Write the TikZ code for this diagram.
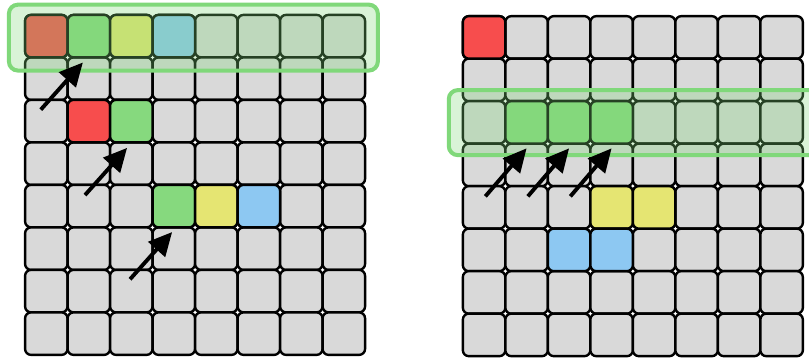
\documentclass[tikz,border=0pt]{standalone}
\usepackage{tikz}
\usetikzlibrary{arrows.meta, positioning, calc}

\definecolor{cellgray}{RGB}{217,217,217}
\definecolor{cellred}{RGB}{247,77,77}
\definecolor{cellgreen}{RGB}{134,217,126}
\definecolor{cellyellow}{RGB}{229,229,114}
\definecolor{cellblue}{RGB}{141,200,242}
\definecolor{hlgreen}{RGB}{128,216,122}

\begin{document}
\begin{tikzpicture}[>={Triangle[length=0.55cm, width=0.52cm]}, thick]
		% Define styles
		\tikzstyle{cell} = [draw, rectangle, rounded corners=4pt, fill=cellgray, line width=1.6pt, minimum size=1cm, inner sep=0pt, outer sep=0pt]
		\tikzstyle{line} = [draw, ->, line width=2.6pt]
		\tikzstyle{highlight} = [draw=hlgreen, fill=hlgreen, fill opacity=0.3, line width=2.7pt, rounded corners=6pt]

		\useasboundingbox (0,0) rectangle (19.035,-8.424);

		% Left grid
		\foreach \r in {0,...,7}
			\foreach \c in {0,...,7}
				\node [cell] (left-\r-\c) at (1.09+\c, -0.85-\r) {};

		% Coloured cells of the left grid
		\foreach \r/\c/\col in {0/0/cellred, 0/1/cellgreen, 0/2/cellyellow, 0/3/cellblue, 2/1/cellred, 2/2/cellgreen, 4/3/cellgreen, 4/4/cellyellow, 4/5/cellblue}
			\node [cell, fill=\col] (left-mark-\r-\c) at (left-\r-\c) {};

		% Right grid
		\foreach \r in {0,...,7}
			\foreach \c in {0,...,7}
				\node [cell] (right-\r-\c) at (11.39+\c, -0.88-\r) {};

		% Coloured cells of the right grid
		\foreach \r/\c/\col in {0/0/cellred, 2/1/cellgreen, 2/2/cellgreen, 2/3/cellgreen, 4/3/cellyellow, 4/4/cellyellow, 5/2/cellblue, 5/3/cellblue}
			\node [cell, fill=\col] (right-mark-\r-\c) at (right-\r-\c) {};

		% Highlighted rows
		\draw [highlight] ($(left-0-0.north west)+(-0.38,0.24)$) rectangle ($(left-0-7.south east)+(0.3,-0.31)$);
		\draw [highlight] ($(right-2-0.north west)+(-0.33,0.26)$) rectangle ($(right-2-7.south east)+(0.7,-0.27)$);

		% Arrows, left grid
		\coordinate (tip-a) at ($(left-1-1.north west)+(0.36,-0.12)$);
		\coordinate (tail-a) at ($(tip-a)+(-0.99,-1.11)$);
		\coordinate (tip-b) at ($(left-3-2.north west)+(0.4,-0.13)$);
		\coordinate (tail-b) at ($(tip-b)+(-0.99,-1.11)$);
		\coordinate (tip-c) at ($(left-5-3.north west)+(0.46,-0.11)$);
		\coordinate (tail-c) at ($(tip-c)+(-0.99,-1.11)$);
		\draw [line] (tail-a) -- (tip-a);
		\draw [line] (tail-b) -- (tip-b);
		\draw [line] (tail-c) -- (tip-c);

		% Arrows, right grid
		\foreach \c in {1,2,3} {
			\coordinate (tip-r\c) at ($(right-3-\c.north)+(0,-0.11)$);
			\coordinate (tail-r\c) at ($(tip-r\c)+(-0.97,-1.13)$);
			\draw [line] (tail-r\c) -- (tip-r\c);
		}

	\end{tikzpicture}
\end{document}
